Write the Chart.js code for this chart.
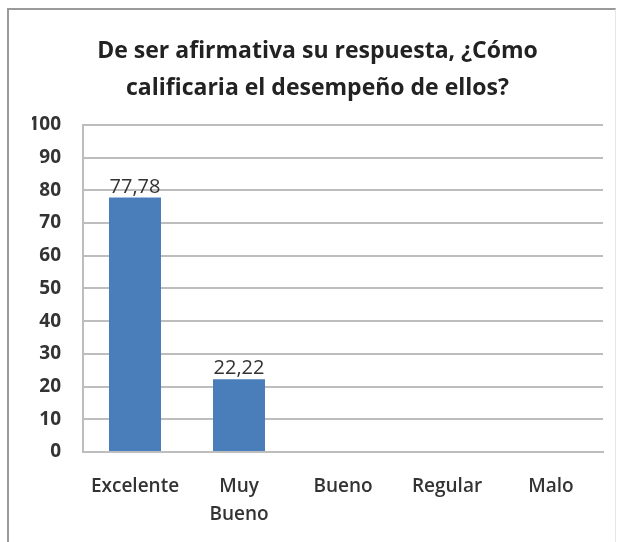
<!DOCTYPE html>
<html>
<head>
<meta charset="utf-8">
<script src="https://cdn.jsdelivr.net/npm/chart.js@4"></script>
<style>
    html, body { margin: 0; padding: 0; background: #fff; overflow: hidden; }
    #wrap { position: relative; width: 618px; height: 542px; }
    #frame {
        position: absolute; left: 7px; top: 8px; right: 2px; bottom: -4px;
        border-top: 2px solid #9a9a9a;
        border-left: 2px solid #9a9a9a;
        border-right: 1px solid #e6e6e6;
        pointer-events: none;
    }
</style>
</head>
<body>
<div id="wrap">
    <canvas id="chart" width="618" height="542"></canvas>
    <div id="frame"></div>
</div>
<script>
// Chart data
const categories = ['Excelente', ['Muy', 'Bueno'], 'Bueno', 'Regular', 'Malo'];
const percentages = [77.78, 22.22, 0, 0, 0];
const yTicks = [0, 10, 20, 30, 40, 50, 60, 70, 80, 90, 100];

const FONT = "'Open Sans', 'DejaVu Sans', sans-serif";

// Draw the value above each bar (skip empty bars)
const valueLabels = {
    id: 'valueLabels',
    afterDatasetsDraw(chart) {
        const ctx = chart.ctx;
        const meta = chart.getDatasetMeta(0);
        ctx.save();
        ctx.font = '20px ' + FONT;
        ctx.fillStyle = '#333';
        ctx.textAlign = 'center';
        ctx.textBaseline = 'alphabetic';
        meta.data.forEach((bar, i) => {
            const v = percentages[i];
            if (!v) return;
            ctx.fillText(v.toFixed(2).replace('.', ','), bar.x, bar.y - 5);
        });
        ctx.restore();
    }
};

new Chart(document.getElementById('chart'), {
    type: 'bar',
    data: {
        labels: categories,
        datasets: [{
            data: percentages,
            backgroundColor: '#4a7ebb',
            borderWidth: 0,
            categoryPercentage: 1,
            barPercentage: 0.5
        }]
    },
    options: {
        responsive: false,
        animation: false,
        layout: { padding: { left: 32, right: 15, top: 0, bottom: 0 } },
        plugins: {
            legend: { display: false },
            tooltip: { enabled: false },
            title: {
                display: true,
                text: ['De ser afirmativa su respuesta, ¿Cómo', 'calificaria el desempeño de ellos?'],
                color: '#222',
                font: { family: FONT, size: 23, weight: 'bold', lineHeight: 1.65 },
                padding: { top: 32, bottom: 17 }
            }
        },
        scales: {
            x: {
                grid: { display: false, drawTicks: false },
                border: { display: true, color: '#bdbdbd', width: 2 },
                ticks: {
                    color: '#333',
                    font: { family: FONT, size: 19, weight: '600', lineHeight: 1.5 },
                    padding: 20,
                    maxRotation: 0,
                    autoSkip: false
                },
                afterFit(scale) { scale.height = 90; }
            },
            y: {
                min: 0,
                max: 100,
                afterBuildTicks(scale) { scale.ticks = yTicks.map(v => ({ value: v })); },
                grid: { color: '#bdbdbd', lineWidth: 2, drawTicks: false },
                border: { display: true, color: '#bdbdbd', width: 2 },
                ticks: {
                    color: '#333',
                    font: { family: FONT, size: 19, weight: 'bold' },
                    padding: 22
                },
                afterFit(scale) { scale.width = 51; }
            }
        }
    },
    plugins: [valueLabels]
});
</script>
</body>
</html>
